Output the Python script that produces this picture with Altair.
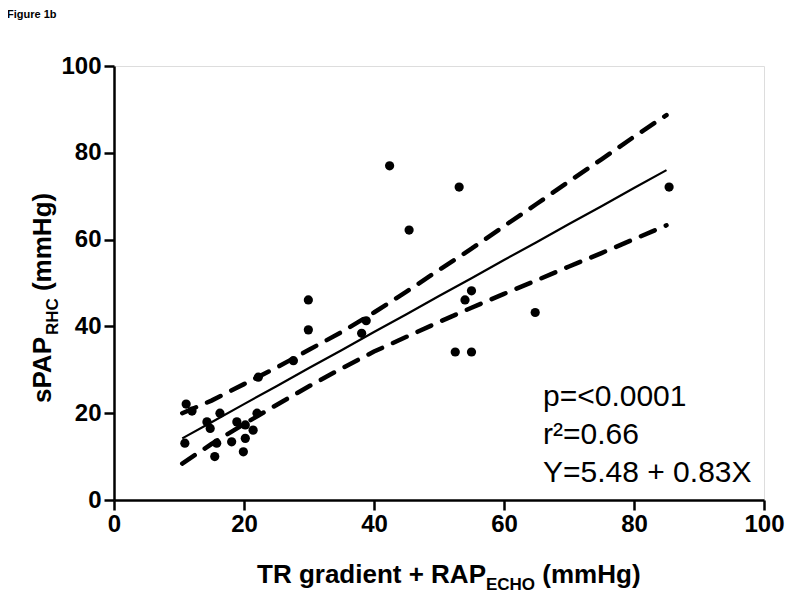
import altair as alt
import pandas as pd

# ---- data ----
x_pts = [11.1, 12.0, 10.9, 14.3, 14.8, 16.3, 15.8, 15.5, 18.1, 18.9, 20.2, 21.4, 20.2, 19.9, 22.0,
         22.2, 27.6, 29.9, 29.9, 38.1, 38.8, 42.4, 45.4, 53.1, 52.5, 55.0, 54.0, 55.0, 64.8, 85.4]
y_pts = [22.1, 20.5, 13.1, 18.0, 16.5, 20.0, 13.1, 10.0, 13.4, 18.0, 17.3, 16.1, 14.2, 11.1, 20.0,
         28.3, 32.1, 46.1, 39.2, 38.4, 41.3, 77.0, 62.2, 72.1, 34.1, 34.1, 46.1, 48.2, 43.2, 72.1]

band_x = [10.5, 15, 20, 25, 30, 35, 40, 45, 50, 55, 60, 65, 70, 75, 80, 85]
fit_y = [14.2, 17.9, 22.1, 26.2, 30.4, 34.5, 38.7, 42.8, 47.0, 51.1, 55.3, 59.4, 63.6, 67.7, 71.9, 76.0]
upper_y = [20.0, 22.9, 26.7, 30.5, 34.6, 38.7, 43.2, 48.0, 53.0, 57.9, 63.1, 68.2, 73.4, 78.5, 83.7, 88.7]
lower_y = [8.4, 12.9, 17.5, 21.9, 26.2, 30.3, 34.2, 37.6, 41.0, 44.3, 47.5, 50.6, 53.8, 56.9, 60.1, 63.3]

x_ticks = [0, 20, 40, 60, 80, 100]
y_ticks = [0, 20, 40, 60, 80, 100]

stats_lines = ["p=<0.0001", "r\u00b2=0.66", "Y=5.48 + 0.83X"]
fig_label = "Figure 1b"
x_title_parts = ["TR gradient + RAP", "ECHO", "(mmHg)"]
y_title_parts = ["sPAP", "RHC", "(mmHg)"]

FONT = "Liberation Sans, Arial, Helvetica, sans-serif"
W, H = 650, 434

# Arial Bold advance widths (per em) for layout of the composite titles
BOLD = {" ": .278, "(": .333, ")": .333, "+": .584, "A": .722, "C": .722, "E": .667, "H": .722,
        "O": .778, "P": .667, "R": .722, "T": .611, "a": .556, "d": .611, "e": .556, "g": .611,
        "i": .278, "m": .889, "n": .611, "r": .389, "s": .556, "t": .333}


def tw(s, size):
    return sum(BOLD.get(c, .6) for c in s) * size


pts = pd.DataFrame({"x": x_pts, "y": y_pts})
bands = pd.DataFrame({"x": band_x, "fit": fit_y, "upper": upper_y, "lower": lower_y})

xs = alt.Scale(domain=[0, 100], nice=False, zero=False)
ys = alt.Scale(domain=[0, 100], nice=False, zero=False)

x_axis = alt.Axis(values=x_ticks, title=None, grid=False, labelFontSize=24, labelFontWeight="bold",
                  labelFont=FONT, labelColor="black", domainColor="black", domainWidth=2.5,
                  tickColor="black", tickWidth=2.5, tickSize=10, labelPadding=2, labelFlush=False)
y_axis = alt.Axis(values=y_ticks, title=None, grid=False, labelFontSize=24, labelFontWeight="bold",
                  labelFont=FONT, labelColor="black", domainColor="black", domainWidth=2.5,
                  tickColor="black", tickWidth=2.5, tickSize=10, labelPadding=3, labelFlush=False)

points = alt.Chart(pts).mark_circle(size=85, color="black", opacity=1).encode(
    x=alt.X("x:Q", scale=xs, axis=x_axis),
    y=alt.Y("y:Q", scale=ys, axis=y_axis),
)

base = alt.Chart(bands)
fit = base.mark_line(color="black", strokeWidth=2.2).encode(
    x=alt.X("x:Q", scale=xs), y=alt.Y("fit:Q", scale=ys))
up = base.mark_line(color="black", strokeWidth=4.5, strokeDash=[15, 12], strokeCap="round").encode(
    x=alt.X("x:Q", scale=xs), y=alt.Y("upper:Q", scale=ys))
lo = base.mark_line(color="black", strokeWidth=4.5, strokeDash=[15, 12], strokeCap="round").encode(
    x=alt.X("x:Q", scale=xs), y=alt.Y("lower:Q", scale=ys))

layers = [fit, up, lo, points]

# statistics text
for i, s in enumerate(stats_lines):
    layers.append(alt.Chart(pd.DataFrame({"t": [s]})).mark_text(
        font=FONT, fontSize=30, color="black", align="left", baseline="middle").encode(
        text="t:N", x=alt.value(429), y=alt.value(331 + i * 38)))

# figure label
layers.append(alt.Chart(pd.DataFrame({"t": [fig_label]})).mark_text(
    font=FONT, fontSize=11, fontWeight="bold", color="black", align="left", baseline="alphabetic").encode(
    text="t:N", x=alt.value(-107), y=alt.value(-48)))

# x title (composite with subscript)
MAIN, SUB = 26, 17
GAP = tw(" ", MAIN)
x0 = 143
xb = 517
offs = [x0, x0 + tw(x_title_parts[0], MAIN),
        x0 + tw(x_title_parts[0], MAIN) + tw(x_title_parts[1], SUB) + GAP]
sizes = [MAIN, SUB, MAIN]
dys = [0, 7, 0]
for part, o, sz, dy in zip(x_title_parts, offs, sizes, dys):
    layers.append(alt.Chart(pd.DataFrame({"t": [part]})).mark_text(
        font=FONT, fontSize=sz, fontWeight="bold", color="black", align="left", baseline="alphabetic").encode(
        text="t:N", x=alt.value(o), y=alt.value(xb + dy)))

# y title (rotated composite with subscript)
y0 = 337
yb = -63
offs = [y0, y0 - tw(y_title_parts[0], MAIN),
        y0 - tw(y_title_parts[0], MAIN) - tw(y_title_parts[1], SUB) - GAP]
for part, o, sz, dy in zip(y_title_parts, offs, sizes, dys):
    layers.append(alt.Chart(pd.DataFrame({"t": [part]})).mark_text(
        font=FONT, fontSize=sz, fontWeight="bold", color="black", align="left", baseline="alphabetic",
        angle=270).encode(
        text="t:N", x=alt.value(yb + dy), y=alt.value(o)))

chart = alt.layer(*layers).properties(
    width=W, height=H,
    autosize=alt.AutoSizeParams(type="none"),
    padding={"left": 106, "top": 58, "right": 28, "bottom": 97},
).configure_view(stroke=None).configure(background="white")

chart.save("out.html", embed_options={"renderer": "svg", "actions": False})
